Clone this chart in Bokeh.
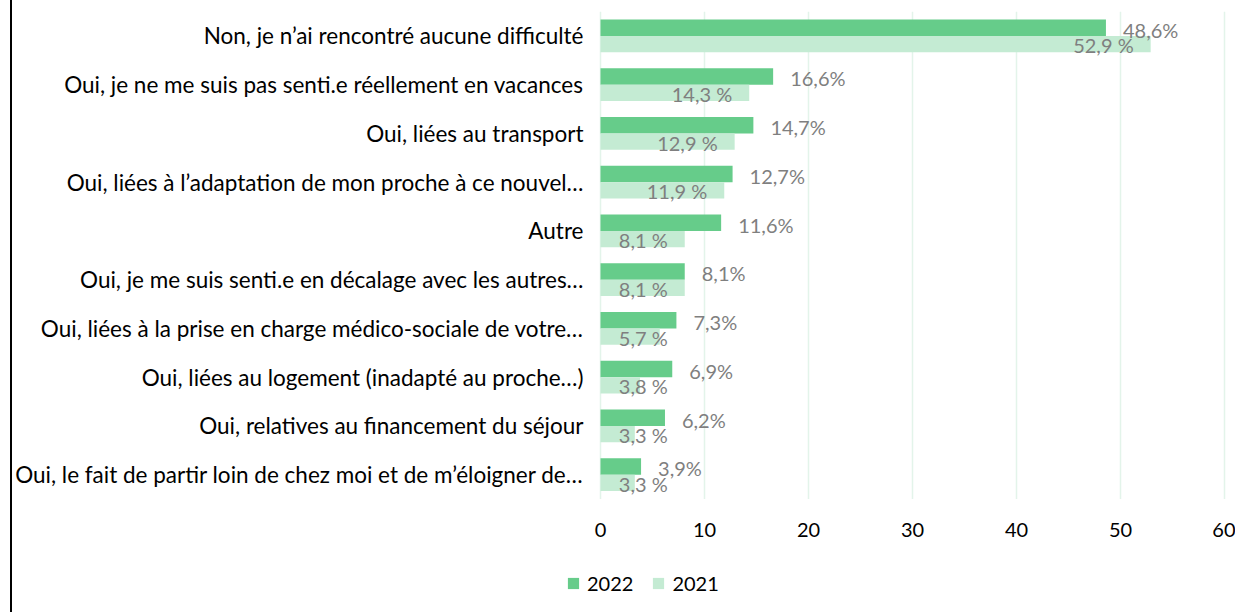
from bokeh.plotting import figure
from bokeh.models import ColumnDataSource, Range1d, Legend, LegendItem, FixedTicker
from bokeh.transform import dodge
from bokeh.core.properties import value
from bokeh.embed import file_html
from bokeh.resources import INLINE

categories = [
    "Non, je n\u2019ai rencontré aucune difficulté",
    "Oui, je ne me suis pas senti.e réellement en vacances",
    "Oui, liées au transport",
    "Oui, liées à l\u2019adaptation de mon proche à ce nouvel\u2026",
    "Autre",
    "Oui, je me suis senti.e en décalage avec les autres\u2026",
    "Oui, liées à la prise en charge médico-sociale de votre\u2026",
    "Oui, liées au logement (inadapté au proche\u2026)",
    "Oui, relatives au financement du séjour",
    "Oui, le fait de partir loin de chez moi et de m\u2019éloigner de\u2026",
]
values_2022 = [48.6, 16.6, 14.7, 12.7, 11.6, 8.1, 7.3, 6.9, 6.2, 3.9]
values_2021 = [52.9, 14.3, 12.9, 11.9, 8.1, 8.1, 5.7, 3.8, 3.3, 3.3]
x_ticks = [0, 10, 20, 30, 40, 50, 60]
series_names = ["2022", "2021"]

C22 = "#66CC8A"
C21 = "#C4EBD3"
GRAY = "#7F7F7F"
GRID = "#E3F4EA"
FONT = "Lato"

n = len(categories)
ypos = [n - 1 - i for i in range(n)]  # first category on top

src = ColumnDataSource(dict(
    y=ypos,
    v22=values_2022,
    v21=values_2021,
    l22=[f"{v:.1f}%".replace(".", ",") for v in values_2022],
    l21=[f"{v:.1f} %".replace(".", ",") for v in values_2021],
    x21=[max(v, 8.1) for v in values_2021],
))

PX_PER_UNIT = 10.4
WIDTH = 1225
LEFT = 548
p = figure(
    width=WIDTH, height=612,
    x_range=Range1d(-40 / PX_PER_UNIT, -40 / PX_PER_UNIT + (WIDTH - LEFT) / PX_PER_UNIT),
    y_range=Range1d(-2.5, n - 0.5),
    output_backend="svg", toolbar_location=None,
    min_border_left=LEFT, min_border_right=0,
    min_border_top=11, min_border_bottom=16,
)
p.styles = {"margin-left": "10px", "border-left": "2px solid #000000"}
p.outline_line_color = None
p.background_fill_color = "white"

# vertical grid lines limited to the bar area
grid_src = ColumnDataSource(dict(x=x_ticks))
p.segment(x0="x", x1="x", y0=-0.5, y1=n - 0.5, source=grid_src,
          line_color=GRID, line_width=1.5, level="underlay")

bh = 0.338
off = 0.169
r22 = p.hbar(y=dodge("y", off), right="v22", left=0, height=bh,
             source=src, fill_color=C22, line_color=None)
r21 = p.hbar(y=dodge("y", -off), right="v21", left=0, height=bh,
             source=src, fill_color=C21, line_color=None)

p.text(x="v22", y=dodge("y", off), text="l22", source=src,
       x_offset=17, y_offset=2, text_align="left", text_baseline="middle",
       text_font=value(FONT), text_font_size="20px", text_color=GRAY)
p.text(x="x21", y=dodge("y", -off), text="l21", source=src,
       x_offset=-17, y_offset=1, text_align="right", text_baseline="middle",
       text_font=value(FONT), text_font_size="20px", text_color=GRAY)

p.xgrid.visible = False
p.ygrid.visible = False

p.xaxis.ticker = FixedTicker(ticks=x_ticks)
p.xaxis.fixed_location = -0.5
p.yaxis.ticker = FixedTicker(ticks=ypos)
p.yaxis.major_label_overrides = {y: c for y, c in zip(ypos, categories)}

for ax in (p.xaxis[0], p.yaxis[0]):
    ax.axis_line_color = None
    ax.major_tick_line_color = None
    ax.minor_tick_line_color = None
    ax.major_tick_out = 0
    ax.major_tick_in = 0
    ax.minor_tick_out = 0
    ax.minor_tick_in = 0
    ax.major_label_text_font = FONT
    ax.major_label_text_color = "#000000"
p.xaxis.major_label_text_font_size = "20px"
p.yaxis.major_label_text_font_size = "22.5px"
p.xaxis.major_label_standoff = 24
p.yaxis.major_label_standoff = -23

legend = Legend(
    items=[LegendItem(label=series_names[0], renderers=[r22]),
           LegendItem(label=series_names[1], renderers=[r21])],
    location=(6, 1), orientation="horizontal",
    glyph_width=14, glyph_height=14, label_standoff=7, spacing=18,
    padding=0, margin=0, border_line_color=None, background_fill_alpha=0,
    label_text_font=FONT, label_text_font_size="20px", label_text_color="#000000",
)
p.add_layout(legend, "center")

open("out.html", "w").write(file_html(p, INLINE))
